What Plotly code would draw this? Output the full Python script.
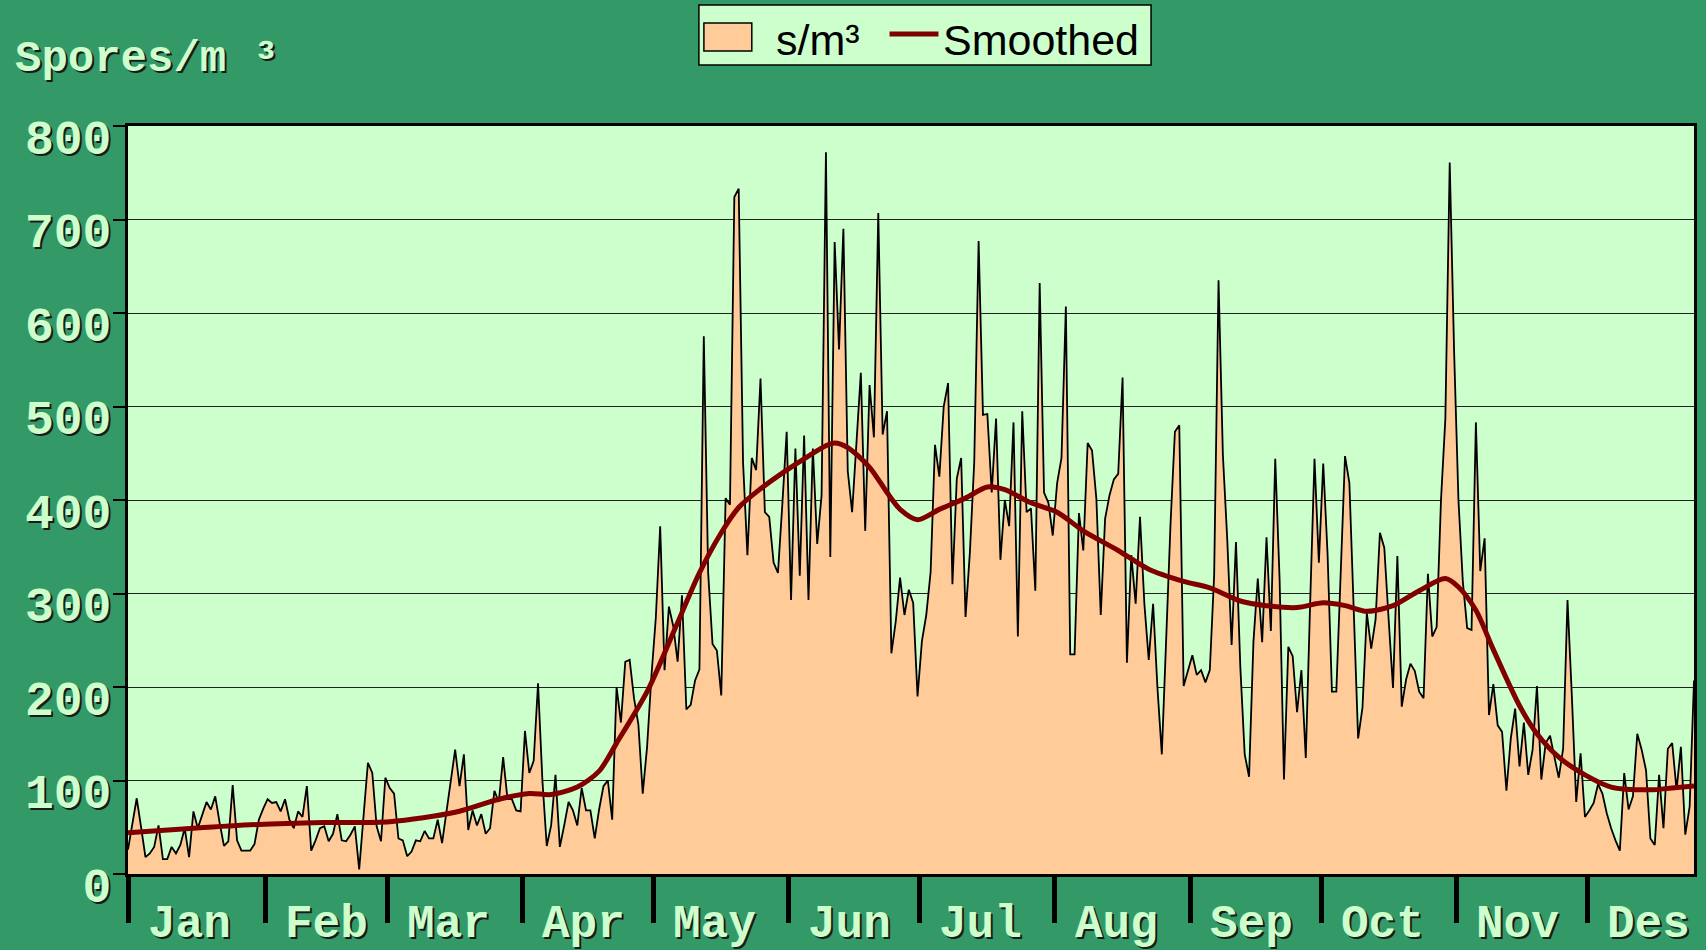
import plotly.graph_objects as go

# ---------------- data (daily spore counts, s/m³) ----------------
month_names = ["Jan", "Feb", "Mar", "Apr", "May", "Jun", "Jul", "Aug", "Sep", "Oct", "Nov", "Des"]
month_tick_days = [0, 31.5, 59.5, 90.5, 120.5, 151.5, 181.5, 212.5, 243.5, 273.5, 304.5, 334.5]

jan = [26, 52, 81, 50, 18, 22, 29, 52, 16, 16, 29, 22, 31, 49, 18, 67, 49, 63, 77, 69,
       83, 55, 30, 35, 95, 36, 25, 25, 25, 32, 58]
feb = [70, 80, 76, 77, 67, 80, 58, 49, 67, 61, 94, 25, 36, 49, 51, 35, 43, 64, 36, 35,
       42, 51, 5, 61, 119, 108, 51, 35]
mar = [103, 92, 86, 38, 36, 19, 24, 36, 35, 46, 38, 38, 58, 33, 68, 100, 133, 94, 128, 47,
       68, 52, 64, 43, 49, 89, 77, 125, 80, 80, 68]
apr = [67, 153, 108, 121, 204, 100, 30, 52, 106, 29, 52, 77, 68, 52, 92, 68, 68, 38, 69, 94,
       100, 58, 200, 162, 227, 229, 188, 160, 86, 136]
may = [212, 274, 372, 218, 286, 265, 227, 298, 176, 181, 207, 219, 575, 322, 246, 239, 191, 402, 395, 724,
       733, 440, 341, 445, 432, 530, 387, 382, 333, 322, 395]
jun = [473, 293, 455, 319, 469, 293, 455, 353, 405, 772, 339, 676, 561, 690, 431, 387, 461, 536, 367, 523,
       467, 707, 470, 495, 236, 270, 317, 277, 304, 290]
jul = [190, 249, 277, 323, 459, 425, 500, 525, 310, 423, 445, 275, 344, 441, 677, 491, 492, 408, 487, 336,
       400, 372, 483, 254, 495, 387, 391, 303, 632, 408, 397]
aug = [362, 418, 445, 607, 235, 235, 386, 346, 461, 453, 401, 277, 380, 405, 422, 428, 531, 226, 341, 289,
       382, 289, 229, 289, 199, 128, 250, 375, 473, 480, 201]
sep = [218, 234, 213, 218, 205, 218, 320, 635, 448, 358, 245, 355, 221, 128, 104, 248, 316, 248, 360, 260,
       444, 315, 101, 243, 233, 173, 218, 124, 289, 444]
oct_ = [333, 439, 342, 195, 195, 317, 447, 418, 289, 145, 178, 279, 241, 272, 365, 349, 272, 199, 340, 179,
        208, 225, 217, 195, 188, 321, 254, 264, 400, 487, 761]
nov = [560, 400, 313, 263, 261, 483, 324, 359, 170, 203, 159, 152, 89, 145, 177, 115, 162, 106, 133, 201,
       101, 140, 148, 125, 103, 134, 293, 190, 77, 129]
des = [61, 68, 76, 96, 86, 65, 49, 36, 25, 108, 69, 83, 150, 133, 111, 38, 31, 106, 49, 134,
       140, 90, 136, 42, 72, 207]

counts = jan + feb + mar + apr + may + jun + jul + aug + sep + oct_ + nov + des
days = list(range(len(counts)))

# smoothed curve, read at selected days
smooth_days = [0, 15, 30, 45, 60, 75, 85, 92, 97, 103, 108, 112, 119, 125, 131, 136, 140, 145, 151,
               156, 160, 162, 165, 170, 174, 177, 181, 186, 192, 197, 201, 207, 213, 219, 227, 234,
               242, 248, 255, 261, 268, 274, 279, 284, 290, 296, 302, 305, 309, 313, 319, 323, 328,
               334, 340, 349, 354, 359]
smooth_vals = [44, 49, 53, 55, 56, 66, 80, 86, 85, 93, 110, 140, 195, 258, 322, 365, 392, 412, 432,
               447, 458, 461, 456, 435, 408, 390, 379, 390, 402, 414, 411, 397, 387, 367, 346, 326,
               313, 306, 292, 287, 285, 290, 287, 281, 287, 303, 316, 307, 282, 240, 180, 150, 125,
               106, 93, 90, 92, 94]

y_ticks = [0, 100, 200, 300, 400, 500, 600, 700, 800]
legend_labels = ["s/m³", "Smoothed"]

# ---------------- styling ----------------
W, H = 1706, 950
ML, MR, MT, MB = 128, 9, 126, 76
PW, PH = W - ML - MR, H - MT - MB
BG = "#339966"
PLOT_BG = "#ccffcc"
FILL = "#ffcc99"
SMOOTH = "#800000"
LABEL = "#ccffcc"
SHADOW = "2px 2px 0px #1a1a1a"
MONO = "Liberation Mono"


def px_x(px):
    return (px - ML) / PW


def px_y(py):
    return (H - MB - py) / PH


fig = go.Figure()
fig.add_trace(go.Scatter(x=days, y=counts, mode="lines", fill="tozeroy", name=legend_labels[0],
                         fillcolor=FILL, line=dict(color="black", width=1.8),
                         showlegend=False, hoverinfo="skip"))
fig.add_trace(go.Scatter(x=smooth_days, y=smooth_vals, mode="lines", name=legend_labels[1],
                         showlegend=False,
                         line=dict(color=SMOOTH, width=5, shape="spline", smoothing=0.8)))

annotations = []
for name, tv in zip(month_names, month_tick_days):
    annotations.append(dict(x=tv + 14, y=px_y(925), xref="x", yref="paper", text=name,
                            showarrow=False, xanchor="center", yanchor="middle",
                            font=dict(family=MONO, size=46, color=LABEL, weight="bold",
                                      shadow=SHADOW)))
annotations.append(dict(x=px_x(13), y=px_y(59), xref="paper", yref="paper",
                        text="Spores/m ³", showarrow=False, xanchor="left", yanchor="middle",
                        font=dict(family=MONO, size=44, color=LABEL, weight="bold",
                                  shadow=SHADOW)))
# legend texts
legend_font = dict(family="Liberation Sans", size=43, color="black")
annotations.append(dict(x=px_x(775), y=px_y(40), xref="paper", yref="paper", text=legend_labels[0],
                        showarrow=False, xanchor="left", yanchor="middle", font=legend_font))
annotations.append(dict(x=px_x(943), y=px_y(40), xref="paper", yref="paper", text=legend_labels[1],
                        showarrow=False, xanchor="left", yanchor="middle", font=legend_font))

shapes = [
    # legend box
    dict(type="rect", xref="paper", yref="paper", x0=px_x(700), x1=px_x(1153),
         y0=px_y(65), y1=px_y(5), fillcolor=PLOT_BG, line=dict(color="black", width=1.5)),
    # area swatch
    dict(type="rect", xref="paper", yref="paper", x0=px_x(705), x1=px_x(753),
         y0=px_y(51), y1=px_y(23), fillcolor=FILL, line=dict(color="black", width=1.5)),
    # smoothed swatch
    dict(type="line", xref="paper", yref="paper", x0=px_x(891), x1=px_x(940),
         y0=px_y(34), y1=px_y(34), line=dict(color=SMOOTH, width=5)),
]

fig.update_layout(
    width=W, height=H,
    margin=dict(l=ML, r=MR, t=MT, b=MB),
    paper_bgcolor=BG, plot_bgcolor=PLOT_BG,
    showlegend=False,
    annotations=annotations,
    shapes=shapes,
    xaxis=dict(range=[0, len(counts) - 1], tickvals=month_tick_days, ticktext=[""] * 12,
               ticks="outside", ticklen=46, tickwidth=5, tickcolor="black",
               showgrid=False, zeroline=False, showline=True, linecolor="black",
               linewidth=3, mirror=True),
    yaxis=dict(range=[0, 800], tickvals=y_ticks, ticks="outside", ticklen=12,
               tickwidth=2, tickcolor="black", showgrid=True, gridcolor="#222222",
               gridwidth=1, zeroline=False, showline=True, linecolor="black",
               linewidth=3, mirror=True, ticklabelshift=11, ticklabelstandoff=-8,
               tickfont=dict(family=MONO, size=48, color=LABEL, weight="bold",
                             shadow=SHADOW)),
)

fig.write_html("out.html",
               config={"displayModeBar": False},
               post_script="document.body.style.margin='0';"
                           "document.body.style.background='#339966';")
